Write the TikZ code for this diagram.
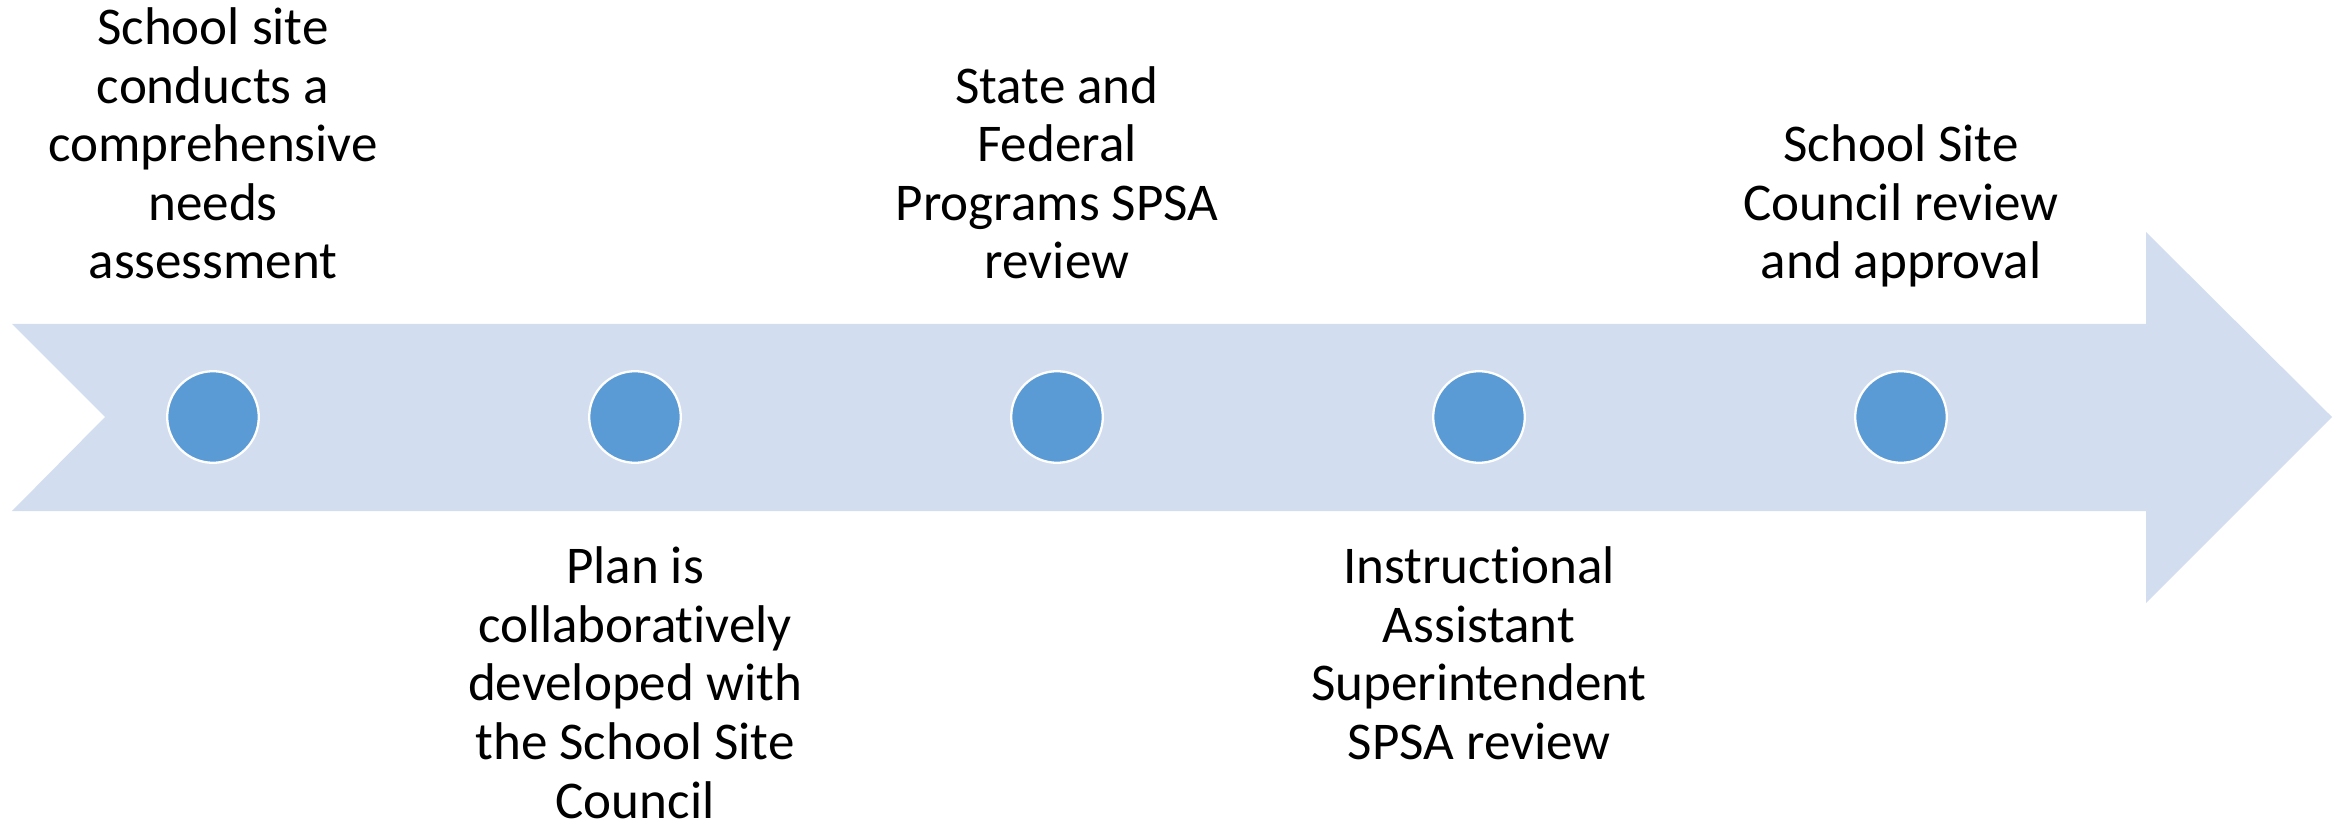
\documentclass[tikz,border=0pt]{standalone}
\usepackage{fontspec}
\setmainfont{Carlito}[Ligatures=NoCommon]
\usetikzlibrary{positioning}
\definecolor{bandblue}{RGB}{210,222,239}
\definecolor{dotblue}{RGB}{91,155,213}

\begin{document}
\begin{tikzpicture}[
    dot/.style={circle,fill=dotblue,draw=white,line width=0.65pt,minimum size=0.916cm,inner sep=0pt},
    steptext/.style={align=center,inner sep=0pt,anchor=base,font=\fontsize{15.1}{16.65}\selectfont}
  ]
    \useasboundingbox (0,0) rectangle (23.46,8.25);

    % the band with its notch and head
    \fill[bandblue] (0.12,5.01) -- (21.46,5.01) -- (21.46,5.93) -- (23.32,4.08)
      -- (21.46,2.22) -- (21.46,3.14) -- (0.12,3.14) -- (1.05,4.08) -- cycle;

    \node[dot] (c1) at (2.13,4.08) {};
    \node[dot] (c2) at (6.35,4.08) {};
    \node[dot] (c3) at (10.57,4.08) {};
    \node[dot] (c4) at (14.79,4.08) {};
    \node[dot] (c5) at (19.01,4.08) {};

    % base anchor sits on the last line
    \node[steptext] (t1) at (2.13,5.46) {School site\\conducts a\\comprehensive\\needs\\assessment};
    \node[steptext] (t2) at (6.35,0.07) {Plan is\\collaboratively\\developed with\\the School Site\\Council};
    \node[steptext] (t3) at (10.57,5.46) {State and\\Federal\\Programs SPSA\\review};
    \node[steptext] (t4) at (14.79,0.655) {Instructional\\Assistant\\Superintendent\\SPSA review};
    \node[steptext] (t5) at (19.01,5.46) {School Site\\Council review\\and approval};
  \end{tikzpicture}
\end{document}
